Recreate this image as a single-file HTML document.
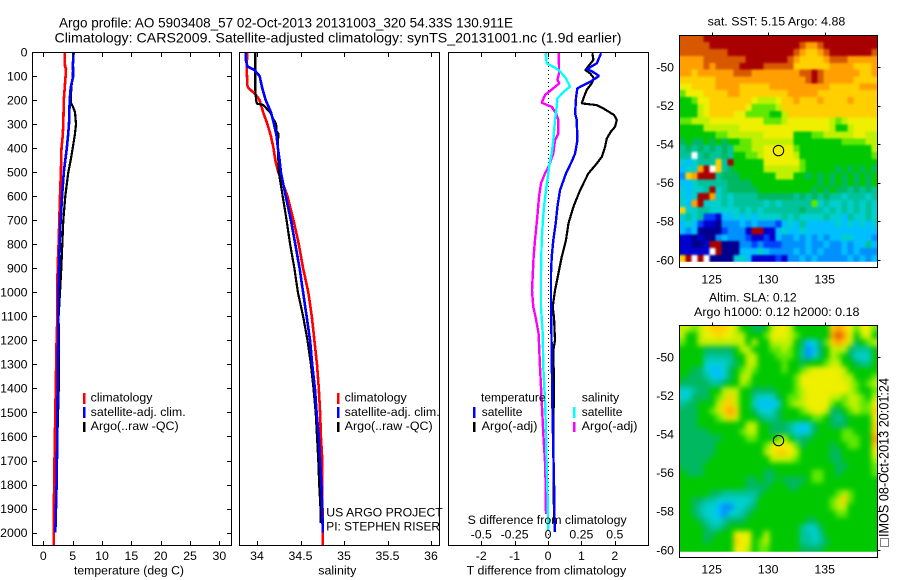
<!DOCTYPE html>
<html>
<head>
<meta charset="utf-8">
<title>Argo profile</title>
<style>
html,body{margin:0;padding:0;background:#fff;}
svg{display:block;}
text{font-family:"Liberation Sans",sans-serif;font-size:12.3px;fill:#000;}
</style>
</head>
<body>
<svg id="fig" xmlns="http://www.w3.org/2000/svg" width="900" height="580" viewBox="0 0 900 580">
  <defs>
    <filter id="blur-sst" filterUnits="userSpaceOnUse" x="640" y="0" width="260" height="300" color-interpolation-filters="sRGB"><feGaussianBlur stdDeviation="1"/></filter>
    <filter id="blur-sla" filterUnits="userSpaceOnUse" x="640" y="290" width="260" height="290" color-interpolation-filters="sRGB"><feGaussianBlur stdDeviation="2.6"/></filter>
    <clipPath id="clip-sst"><rect x="680" y="36" width="197" height="225.7"/></clipPath>
    <clipPath id="clip-sla"><rect x="680" y="326" width="197" height="225.7"/></clipPath>
  </defs>
  <text x="59" y="27.5" textLength="454" lengthAdjust="spacingAndGlyphs" style="font-size:14px">Argo profile: AO 5903408_57 02-Oct-2013 20131003_320 54.33S 130.911E</text>
  <text x="54.5" y="42.7" textLength="567" lengthAdjust="spacingAndGlyphs" style="font-size:14px">Climatology: CARS2009. Satellite-adjusted climatology: synTS_20131001.nc (1.9d earlier)</text>

  <g id="p1"></g>
  <g id="p2"></g>
  <g id="p3"></g>
  <g id="m1"></g>
  <g id="m2"></g>

  <text x="74" y="574.7" textLength="110" lengthAdjust="spacingAndGlyphs">temperature (deg C)</text>
  <text x="318.3" y="574.7" textLength="38" lengthAdjust="spacingAndGlyphs">salinity</text>
  <text x="466.7" y="574.7" textLength="159.5" lengthAdjust="spacingAndGlyphs">T difference from climatology</text>
  <text x="467.7" y="524" textLength="159" lengthAdjust="spacingAndGlyphs">S difference from climatology</text>

  <g>
    <rect x="83" y="393" width="2.5" height="11" fill="#ff0000"/>
    <rect x="83" y="407" width="2.5" height="11" fill="#0000ff"/>
    <rect x="83" y="422" width="2.5" height="10" fill="#000"/>
    <text x="90.7" y="401.7" textLength="61.7" lengthAdjust="spacingAndGlyphs">climatology</text>
    <text x="90.7" y="416" textLength="95" lengthAdjust="spacingAndGlyphs">satellite-adj. clim.</text>
    <text x="90.7" y="430" textLength="88" lengthAdjust="spacingAndGlyphs">Argo(..raw -QC)</text>
  </g>
  <g>
    <rect x="337" y="393" width="2.5" height="11" fill="#ff0000"/>
    <rect x="337" y="407" width="2.5" height="11" fill="#0000ff"/>
    <rect x="337" y="422" width="2.5" height="10" fill="#000"/>
    <text x="344.7" y="401.7" textLength="62" lengthAdjust="spacingAndGlyphs">climatology</text>
    <text x="344.7" y="416" textLength="95" lengthAdjust="spacingAndGlyphs">satellite-adj. clim.</text>
    <text x="344.7" y="430" textLength="88" lengthAdjust="spacingAndGlyphs">Argo(..raw -QC)</text>
    <text x="326.3" y="516.7" textLength="116.5" lengthAdjust="spacingAndGlyphs">US ARGO PROJECT</text>
    <text x="326.3" y="530.7" textLength="113.7" lengthAdjust="spacingAndGlyphs">PI: STEPHEN RISER</text>
  </g>
  <g>
    <rect x="473" y="407" width="2.5" height="11" fill="#0000ff"/>
    <rect x="473" y="422" width="2.5" height="10" fill="#000"/>
    <rect x="573" y="407" width="2.5" height="11" fill="#00ffff"/>
    <rect x="573" y="422" width="2.5" height="10" fill="#ff00ff"/>
    <text x="481" y="401.7" textLength="64.5" lengthAdjust="spacingAndGlyphs">temperature</text>
    <text x="481.7" y="416" textLength="40.7" lengthAdjust="spacingAndGlyphs">satellite</text>
    <text x="481.7" y="430" textLength="55.7" lengthAdjust="spacingAndGlyphs">Argo(-adj)</text>
    <text x="581.7" y="401.7" textLength="37.5" lengthAdjust="spacingAndGlyphs">salinity</text>
    <text x="581.7" y="416" textLength="40.7" lengthAdjust="spacingAndGlyphs">satellite</text>
    <text x="581.7" y="430" textLength="55.7" lengthAdjust="spacingAndGlyphs">Argo(-adj)</text>
  </g>

  <text x="707.7" y="25.3" textLength="137.6" lengthAdjust="spacingAndGlyphs">sat. SST: 5.15 Argo: 4.88</text>
  <text x="709" y="301.7" textLength="87.7" lengthAdjust="spacingAndGlyphs">Altim. SLA: 0.12</text>
  <text x="694" y="316" textLength="165.5" lengthAdjust="spacingAndGlyphs">Argo h1000: 0.12 h2000: 0.18</text>

  <rect x="880.5" y="538.5" width="8" height="8" fill="none" stroke="#000" stroke-width="1" stroke-dasharray="1 1"/>
  <text transform="translate(888.7,537) rotate(-90)" x="0" y="0" textLength="159" lengthAdjust="spacingAndGlyphs" style="font-size:13.5px">IMOS 08-Oct-2013 20:01:24</text>
</svg>
<script>
// ---------- chart data ----------
var depthTicks = [0,100,200,300,400,500,600,700,800,900,1000,1100,1200,1300,1400,1500,1600,1700,1800,1900,2000];
var tempTicks = [0,5,10,15,20,25,30];
var salTicks = [34,34.5,35,35.5,36];
var salTickLabels = ['34','34.5','35','35.5','36'];
var tDiffTicks = [-2,-1,0,1,2];
var tDiffLabels = ['-2','-1','0','1','2'];
var sDiffTicks = [-0.5,-0.25,0,0.25,0.5];
var sDiffLabels = ['-0.5','-0.25','0','0.25','0.5'];
var lonTicks = [125,130,135];
var latTicks = [-50,-52,-54,-56,-58,-60];

var tempClimDepth = [0,60,70,100,200,300,350,400,500,600,700,800,900,1000,1100,1200,1500,1750,2000,2055];
var tempClim = [3.64,3.7,3.86,3.8,3.5,3.4,3.3,3.1,3.0,2.84,2.73,2.6,2.44,2.4,2.4,2.27,2.05,1.88,1.76,1.76];
var tempSatDepth = [0,50,100,150,200,300,350,400,450,500,600,700,800,900,1000,1100,1250,1500,1650,1800,2000];
var tempSat = [5.17,5.05,5.1,4.66,4.5,4.37,4.2,4.0,3.75,3.5,3.2,2.95,2.8,2.67,2.56,2.56,2.5,2.4,2.35,2.27,2.05];
var tempArgoDepth = [0,100,150,210,225,250,300,340,400,450,500,550,600,700,800,900,1000,1100,1300,1360,1600,1960];
var tempArgo = [5.17,5.0,4.77,4.66,5.0,5.4,5.57,5.4,5.0,4.66,4.26,4.0,3.75,3.4,3.24,3.07,2.84,2.6,2.67,2.67,2.4,2.1];

var salClimDepth = [0,60,100,140,150,175,200,250,300,350,400,450,500,550,600,700,800,900,1000,1100,1200,1300,1400,1500,1600,1700,1800,2055];
var salClim = [33.89,33.88,33.885,33.89,33.9,33.98,34.03,34.07,34.12,34.16,34.19,34.21,34.245,34.30,34.35,34.42,34.48,34.53,34.59,34.63,34.66,34.69,34.71,34.725,34.735,34.75,34.75,34.755];
var salSatDepth = [0,30,60,75,100,150,200,250,300,350,400,450,500,600,700,800,900,1000,1100,1200,1300,1400,1500,1600,1700,1800,1900,2000];
var salSat = [33.87,33.87,33.89,33.97,34.03,34.06,34.10,34.16,34.195,34.225,34.24,34.26,34.275,34.33,34.39,34.44,34.49,34.53,34.57,34.61,34.635,34.665,34.685,34.71,34.725,34.74,34.75,34.755];
var salArgoDepth = [0,160,200,215,220,250,280,300,330,340,400,500,600,700,800,900,1000,1100,1200,1300,1400,1500,1600,1700,1800,1900,1960];
var salArgo = [33.98,33.98,33.99,34.0,34.07,34.15,34.19,34.22,34.225,34.245,34.24,34.25,34.295,34.34,34.38,34.43,34.47,34.53,34.58,34.62,34.65,34.675,34.69,34.705,34.715,34.73,34.73];

var dTSatDepth = [5,47,72,80,100,124,151,186,255,283,367,422,450,505,575,644,714,783,853,922,1019,1255,1450,1658,1852,1998];
var dTSat = [1.59,1.46,1.16,1.31,1.53,1.26,0.88,0.84,0.81,0.86,0.88,0.81,0.73,0.54,0.36,0.28,0.23,0.16,0.11,0.09,0.09,0.11,0.13,0.16,0.19,0.2];
var dTArgoDepth = [5,33,50,75,89,110,130,158,193,214,221,235,262,283,311,332,360,394,436,464,505,575,644,714,783,853,922,992,1061,1103,1200,1242,1380,1590,1960];
var dTArgo = [1.33,1.36,1.26,1.12,1.26,1.38,1.31,1.16,1.06,1.01,1.46,1.66,1.98,2.06,2.01,1.88,1.76,1.71,1.61,1.46,1.21,0.96,0.76,0.61,0.54,0.41,0.31,0.21,0.14,0.18,0.21,0.16,0.18,0.16,0.18];
var dSSatDepth = [5,47,61,75,89,110,144,165,193,228,283,367,422,471,505,575,644,714,783,922,1061,1172,1311,1450,1589,1728,1866,1991];
var dSSat = [-0.0175,-0.01,0.04,0.0775,0.1025,0.135,0.165,0.12,0.07,0.065,0.0525,0.04,0.0275,0.01,0.0025,-0.015,-0.03,-0.04,-0.0475,-0.0525,-0.0525,-0.04,-0.035,-0.0225,-0.015,-0.01,-0.0025,0.0025];
var dSArgoDepth = [5,61,89,117,130,151,179,211,221,228,255,283,339,367,422,471,505,547,603,686,783,853,992,1061,1103,1172,1311,1450,1589,1728,1922];
var dSArgo = [0.08,0.0825,0.0825,0.07,0.085,0.04,-0.0225,-0.0475,-0.005,0.0275,0.06,0.0775,0.0775,0.0525,0.04,0.01,-0.0225,-0.0525,-0.0675,-0.08,-0.0975,-0.1075,-0.12,-0.11,-0.0925,-0.07,-0.06,-0.0475,-0.035,-0.02,-0.015];

// heatmap values as colour-class levels: 0 (low) .. f (high), w = no data; spaces are ignored
var sstRows = [
"eeee fffffffffffffffffffffffffffff",
"eeeee fffffffffffffff edde fffffffff",
"eeeeeeee fffffffffff edccde fffffff e",
"dddd eeeee eefffffffe dccccd eee ddddd",
"dddd edeeee ffff eeeee cccccc dddd ccc d",
"ddcdddddde ee ddddddd deef e dd ddd dcc d",
"cccccc ddddddddddddddd efe ddddd cccc",
"bbcc cc dddd ccccc dddddddddd ccccc ddd",
"9bbb cccc dd cccccccc ddddd cccccccccc",
"889bb ccccccc baaab ccdcccdccccdcccc",
"888ab cccccc b9999a cccccccccccccccc",
"888ab cccc bb 9999 88 a ccccccccccccccc",
"99aaa bbbbbbbbb 999 a bbbbbbb a9a bbbbb",
"8888 aaaaaa bbbbbbbbbbbbbbb a88a bbbb",
"888888 99 aaaaaa bbbbb 888 99 aaa aabbaa",
"787787878 899 aaaaaaa 8888 8888 9999 aa",
"676767676 999 aa bbbbb 9 888888888888 a",
"66w676676 8899a bbbbb a 888888888888 9",
"545666 c6f 88888 bbbbbb 9 888888888888",
"455 df w c 67 88888 aaaaaa 9 8888 87878787",
"3cdff f6 777 88888 8aaa 8 8787878787878",
"44566 666 7777 8888888888 87878787878",
"54556 f 567 7777 88888888 878787 767676",
"545ff d 565 6666 77777 7676767 66566656",
"54df5 5565 6666 65656 6666 95655 656565",
"c5566 5555 56565 6666 66766 6565 656565",
"5656 221 44 5454 5555 6565 5556 55465565",
"454 2110 33 3434 3332 4546 4444 45454545",
"434 0000 23 33 1ff11 4 5445 4444 44444444",
"110100 3 43 3321 1214 3343 4343 44554443",
"11001 ff 000 3 323 222 3333 4334 33434464",
"11111 wf 000 4 4454 333 3434 3433 3434333",
"cfwfw 0000 55 4 1111 213 3434 3333 343434"
];
var slaRows = [
"aa9a bcccba 88 77 8 abba 888888 cdcb 9 bb 9",
"a88a bbcbba a8 88 9 bbba 988888 dedb 8 ab 8",
"988a aaaaaa a8 a8 8 aaaa 874579 cdca 7 89 a",
"8888 777778 aa 88 8 99a9 863478 aaa7 6 66 8",
"8888 666668 8a a8 8 8999 863578 a987 5 55 8",
"8888 555567 8a a8 8 8898 878889 aa88 7 66 8",
"8877 544578 9a 98 8 8898 89abbb bba8 8 88 8",
"8777 654578 aa 88 8 8888 9bbbbb bbaa 8 88 9",
"7777 766788 a9 88 8 8888 9bbbbb bbba 9 89 a",
"5567 788aaa 88 77 7 7888 9abbbb bbba 9 88 9",
"5577 789aca 88 65 5 5789 9abbbb aa9a a 98 a",
"6778 88acca 88 54 4 4589 aabbbb 989a a 99 b",
"7778 89acdc 88 75 5 5788 89abba 7789 a 99 c",
"7778 889aca 88 87 6 6788 888998 7678 8 88 b",
"7778 888888 8a a8 8 7776 545788 7778 8 88 c",
"7777 788888 9a a8 8 7776 545788 8899 8 88 c",
"7777 777888 89 98 8 89a8 677888 8899 9 88 d",
"7777 778888 88 88 9 bbbb 978888 7889 9 88 c",
"7777 778888 88 88 a bccb a88888 7788 8 88 b",
"7777 788888 88 88 8 aaaa 988888 7788 8 88 a",
"7777 888888 88 88 8 8888 888888 8778 8 88 9",
"8777 888888 88 88 7 7888 888998 8788 8 88 9",
"8888 888888 87 78 7 7877 778998 8888 8 88 8",
"8888 888888 87 77 7 8887 788888 8888 8 88 8",
"8888 877666 66 67 8 8888 888888 89a9 8 88 8",
"8877 665555 55 68 8 8888 888888 9ac9 8 88 8",
"8876 554335 56 78 8 8888 888888 9aa8 8 88 8",
"8876 554355 67 88 8 8888 888888 8998 8 88 8",
"8887 655677 78 88 8 8888 887788 8888 8 88 8",
"8888 766788 88 88 8 8888 865578 8888 8 88 8",
"8888 77888b bb 88 a 8888 866568 8888 8 88 8",
"8888 78888c bb 89 a 8888 866567 8888 8 88 8",
"8888 88888b ba 89 9 8888 877778 8888 8 88 8"
];
var palette = {'0':'#00008f','1':'#0000cf','2':'#0040ff','3':'#0090ff','4':'#00bfff','5':'#00cfcf','6':'#00c39b','7':'#00b860','8':'#00c800','9':'#60e800','a':'#bff000','b':'#efef00','c':'#ffcf00','d':'#ffa000','e':'#d85800','f':'#a80000','w':'#ffffff'};

// ---------- axis functions ----------
function yDepth(d){ return 52 + 0.2403 * d; }
function xTemp(v){ return 43.3 + v * 5.87; }
function xSal(v){ return 257 + (v - 34) * 87; }
function xDT(v){ return 548 + v * 33.4; }
function xDS(v){ return 548 + v * 4 * 33.4; }
function xLon(v){ return 711.7 + (v - 125) * 11.3; }
function yLat1(v){ return 67 + (-50 - v) * 19.3; }
function yLat2(v){ return 357 + (-50 - v) * 19.3; }

var NS = 'http://www.w3.org/2000/svg';
function mk(parent, tag, attrs, txt){
  var el = document.createElementNS(NS, tag);
  for (var k in attrs) el.setAttribute(k, attrs[k]);
  if (txt !== undefined) el.textContent = txt;
  parent.appendChild(el);
  return el;
}
function tick(parent, x1, y1, x2, y2){
  var el = mk(parent, 'line', {x1:x1, y1:y1, x2:x2, y2:y2, stroke:'#000', 'stroke-width':1, 'shape-rendering':'crispEdges'});
  
  
}
function label(parent, x, y, anchor, s){
  var el = mk(parent, 'text', {x:x, y:y, 'text-anchor':anchor}, s);
  
  
}
function frame(parent, x0, y0, x1, y1){
  var el = mk(parent, 'rect', {x:x0, y:y0, width:x1-x0, height:y1-y0, fill:'none', stroke:'#000', 'stroke-width':1, 'shape-rendering':'crispEdges'});
  
  
}
function series(parent, name, depth, vals, xf, color, w){
  var pts = [];
  for (var i = 0; i < vals.length; i++) pts.push(xf(vals[i]).toFixed(1) + ',' + yDepth(depth[i]).toFixed(1));
  var el = mk(parent, 'polyline', {points:pts.join(' '), fill:'none', stroke:color, 'stroke-width':w, 'stroke-linejoin':'bevel', 'shape-rendering':'crispEdges'});
  
  
}

var p1 = document.getElementById('p1');
var p2 = document.getElementById('p2');
var p3 = document.getElementById('p3');
var top0 = 52.5, bot0 = 545.5;

// temperature panel
series(p1, 'temperature-climatology-line', tempClimDepth, tempClim, xTemp, '#ff0000', 2.6);
series(p1, 'temperature-argo-line', tempArgoDepth, tempArgo, xTemp, '#000000', 2.2);
series(p1, 'temperature-satellite-line', tempSatDepth, tempSat, xTemp, '#0000ff', 2.6);
frame(p1, 32.5, top0, 231.5, bot0);
depthTicks.forEach(function(d){
  var y = Math.round(yDepth(d)) + 0.5;
  if (d > 0) { tick(p1, 32.5, y, 37, y); tick(p1, 227, y, 231.5, y); }
  label(p1, 27.5, yDepth(d) + 4.3, 'end', String(d));
});
tempTicks.forEach(function(v){
  var x = Math.round(xTemp(v)) + 0.5;
  tick(p1, x, top0, x, top0 + 4.5);
  tick(p1, x, bot0 - 4.5, x, bot0);
  label(p1, xTemp(v), 559.8, 'middle', String(v));
});

// salinity panel
series(p2, 'salinity-climatology-line', salClimDepth, salClim, xSal, '#ff0000', 2.6);
series(p2, 'salinity-argo-line', salArgoDepth, salArgo, xSal, '#000000', 2.2);
series(p2, 'salinity-satellite-line', salSatDepth, salSat, xSal, '#0000ff', 2.6);
frame(p2, 239.5, top0, 439.5, bot0);
salTicks.forEach(function(v, i){
  var x = Math.round(xSal(v)) + 0.5;
  tick(p2, x, top0, x, top0 + 4.5);
  tick(p2, x, bot0 - 4.5, x, bot0);
  label(p2, xSal(v), 559.8, 'middle', salTickLabels[i]);
});

// difference panel
var zero = mk(p3, 'line', {x1:548.5, y1:54, x2:548.5, y2:544, stroke:'#000', 'stroke-width':1, 'stroke-dasharray':'1 3', 'shape-rendering':'crispEdges'});


series(p3, 't-diff-argo-line', dTArgoDepth, dTArgo, xDT, '#000000', 2.2);
series(p3, 't-diff-satellite-line', dTSatDepth, dTSat, xDT, '#0000ff', 2.4);
series(p3, 's-diff-argo-line', dSArgoDepth, dSArgo, xDS, '#ff00ff', 2.4);
series(p3, 's-diff-satellite-line', dSSatDepth, dSSat, xDS, '#00ffff', 2.4);
frame(p3, 448.5, top0, 648.5, bot0);
tDiffTicks.forEach(function(v, i){
  var x = Math.round(xDT(v)) + 0.5;
  tick(p3, x, top0, x, top0 + 4.5);
  tick(p3, x, bot0 - 4.5, x, bot0);
  label(p3, xDT(v), 559.8, 'middle', tDiffLabels[i]);
});
sDiffTicks.forEach(function(v, i){
  label(p3, xDS(v), 538.7, 'middle', sDiffLabels[i]);
});

// maps
var lonLeft = 122.133, lonStep = 0.5309, latTop = -48.36, latStep = 0.3555;
function drawMap(parent, rowsRaw, yLat, name, clipId, blurId, frameTop, frameBot, lonLabelY, circleLat){
  var clipG = mk(parent, 'g', {'clip-path':'url(#' + clipId + ')'});
  
  
  var g = mk(clipG, 'g', {'shape-rendering':'crispEdges', filter:'url(#' + blurId + ')'});
  
  
  var nRows = rowsRaw.length;
  for (var r = 0; r < nRows; r++){
    var row = rowsRaw[r].replace(/ /g, '');
    var nCols = 33;
    for (var c = 0; c < nCols; c++){
      var ch = row.charAt(c) || row.charAt(row.length - 1);
      var x0 = xLon(lonLeft + c * lonStep), x1 = xLon(lonLeft + (c + 1) * lonStep) + 0.4;
      var y0 = yLat(latTop - r * latStep), y1 = yLat(latTop - (r + 1) * latStep) + 0.4;
      if (c === 0) x0 -= 12;
      if (c === nCols - 1) x1 += 12;
      if (r === 0) y0 -= 12;
      if (r === nRows - 1) y1 += 12;
      var cell = mk(g, 'rect', {x:x0.toFixed(2), y:y0.toFixed(2), width:(x1 - x0).toFixed(2), height:(y1 - y0).toFixed(2), fill:palette[ch]});
      
      
    }
  }
  frame(parent, 679.5, frameTop, 877.5, frameBot);
  lonTicks.forEach(function(v){
    var x = Math.round(xLon(v)) + 0.5;
    tick(parent, x, frameTop - 3, x, frameTop);
    label(parent, xLon(v), lonLabelY, 'middle', String(v));
  });
  latTicks.forEach(function(v){
    var y = Math.round(yLat(v)) + 0.5;
    tick(parent, 877.5, y, 880.5, y);
    label(parent, 674, yLat(v) + 4.3, 'end', String(v));
  });
  var c0 = mk(parent, 'circle', {cx:xLon(130.911), cy:yLat(circleLat), r:5.2, fill:'none', stroke:'#000', 'stroke-width':1});
  
  
}
drawMap(document.getElementById('m1'), sstRows, yLat1, 'sst-map', 'clip-sst', 'blur-sst', 35.5, 267.5, 283.3, -54.33);
drawMap(document.getElementById('m2'), slaRows, yLat2, 'sla-map', 'clip-sla', 'blur-sla', 325.5, 557.5, 573.3, -54.33);
</script>
</body>
</html>
